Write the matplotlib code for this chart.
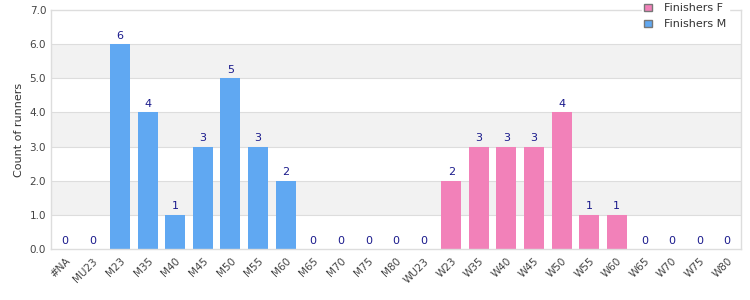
import numpy as np
import matplotlib.pyplot as plt
import matplotlib.patches as mpatches

categories = ['#NA', 'MU23', 'M23', 'M35', 'M40', 'M45', 'M50', 'M55', 'M60', 'M65',
              'M70', 'M75', 'M80', 'WU23', 'W23', 'W35', 'W40', 'W45', 'W50', 'W55',
              'W60', 'W65', 'W70', 'W75', 'W80']
finishers_m = [0, 0, 6, 4, 1, 3, 5, 3, 2, 0, 0, 0, 0, 0, 0, 0, 0, 0, 0, 0, 0, 0, 0, 0, 0]
finishers_f = [0, 0, 0, 0, 0, 0, 0, 0, 0, 0, 0, 0, 0, 0, 2, 3, 3, 3, 4, 1, 1, 0, 0, 0, 0]

col_m = '#60a8f2'
col_f = '#f281b9'
grid_col = '#dddddd'

fig = plt.figure(figsize=(7.5, 3), dpi=100)
ax = fig.add_axes([0.068, 0.17, 0.92, 0.797])

x = np.arange(len(categories))
m = np.array(finishers_m)
f = np.array(finishers_f)

# alternating bands
for lo in range(1, 7, 2):
    ax.axhspan(lo, lo + 1, color='#f2f2f2', zorder=0, lw=0)
for y in range(1, 7):
    ax.axhline(y, color=grid_col, lw=0.8, zorder=0.5)

ax.bar(x, m, width=0.72, color=col_m, zorder=2)
ax.bar(x, f, width=0.72, bottom=m, color=col_f, zorder=2)

tot = m + f
for xi, t in zip(x, tot):
    ax.text(xi, t + 0.1, str(t), ha='center', va='bottom', fontsize=8, color='#1a1a8c')

ax.set_xlim(-0.5, len(categories) - 0.5)
ax.set_ylim(0, 7)
ax.set_yticks(range(8))
ax.set_yticklabels([f'{v:.1f}' for v in range(8)])
ax.set_xticks(x)
ax.set_xticklabels(categories, rotation=45, ha='right', rotation_mode='anchor')
ax.tick_params(axis='both', length=0, labelsize=7.5, labelcolor='#444444')
ax.tick_params(axis='x', pad=5)
ax.set_ylabel('Count of runners', fontsize=8, color='#333333')
for s in ax.spines.values():
    s.set_color(grid_col)
    s.set_linewidth(1)

handles = [mpatches.Patch(facecolor=col_f, edgecolor='#777777', label='Finishers F'),
           mpatches.Patch(facecolor=col_m, edgecolor='#777777', label='Finishers M')]
leg = ax.legend(handles=handles, loc='upper right', bbox_to_anchor=(0.99, 1.06),
                fontsize=8, frameon=True, handlelength=0.7, handleheight=0.7,
                borderpad=0.2, labelspacing=0.55, handletextpad=1.1)
for t in leg.get_texts():
    t.set_color('#333333')
leg.get_frame().set_edgecolor('white')
leg.get_frame().set_facecolor('white')
leg.get_frame().set_alpha(1)
leg.set_zorder(5)

fig.savefig('out.png', dpi=100)
